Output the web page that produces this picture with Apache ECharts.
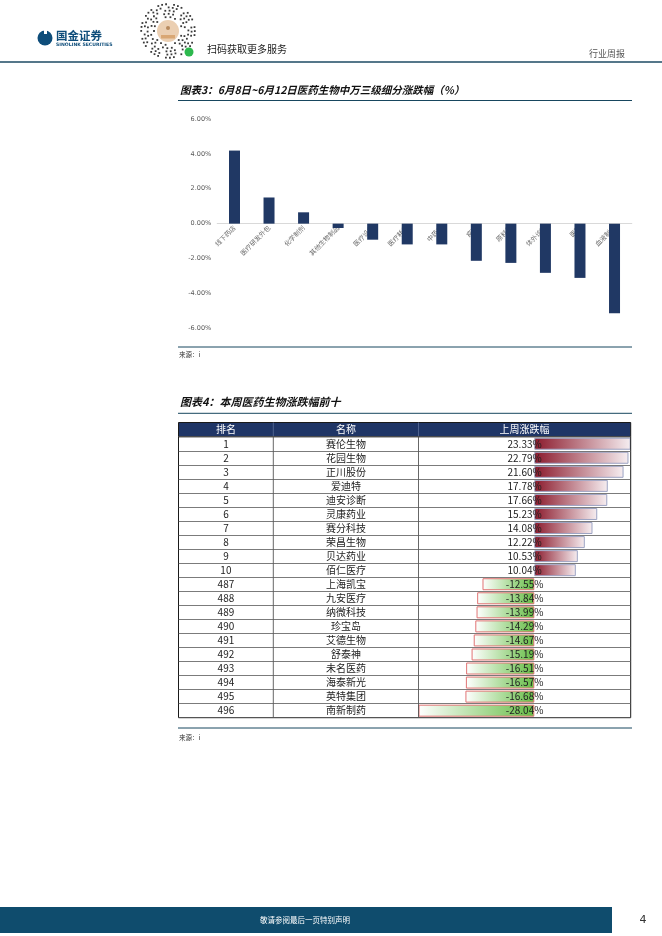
<!DOCTYPE html>
<html><head><meta charset="utf-8">
<script src="https://cdn.jsdelivr.net/npm/echarts@6/dist/echarts.min.js"></script>
<style>html,body{margin:0;padding:0;background:#fff}#c{width:662px;height:936px}</style>
</head><body><div id="c"></div>
<script>
// ---- Chart 3: sub-industry weekly change (%) ----
const industryNames = ['线下药店','医疗研发外包','化学制剂','其他生物制品','医疗设备','医疗耗材','中药Ⅲ','疫苗','原料药','体外诊断','医院','血液制品'];
const industryChanges = [4.19, 1.50, 0.65, -0.25, -0.92, -1.19, -1.19, -2.13, -2.25, -2.82, -3.11, -5.14];
const yMin = -6, yMax = 6, yStep = 2;

// ---- Table 4: top / bottom movers ----
const ranks = ['1','2','3','4','5','6','7','8','9','10','487','488','489','490','491','492','493','494','495','496'];
const stockNames = ['赛伦生物','花园生物','正川股份','爱迪特','迪安诊断','灵康药业','赛分科技','荣昌生物','贝达药业','佰仁医疗','上海凯宝','九安医疗','纳微科技','珍宝岛','艾德生物','舒泰神','未名医药','海泰新光','英特集团','南新制药'];
const stockChanges = [23.33,22.79,21.60,17.78,17.66,15.23,14.08,12.22,10.53,10.04,-12.55,-13.84,-13.99,-14.29,-14.67,-15.19,-16.51,-16.57,-16.68,-28.04];
const tableHeaders = ['排名','名称','上周涨跌幅'];

const CJK = '"Noto Sans CJK SC","Noto Sans",sans-serif';
const chart = echarts.init(document.getElementById('c'), null, {renderer:'canvas'});

// chart 3 grid geometry
const g3Top = 119, g3H = 209.3;
const zeroOffset = -g3H * (0 - yMin) / (yMax - yMin);

// table geometry
const tL = 178.5, tR = 630.7, tTop = 436.7, tBot = 717.7, hTop = 422.5;
const c1 = 273.3, c2 = 418.5;

const posGrad = {type:'linear',x:0,y:0,x2:1,y2:0,colorStops:[{offset:0,color:'#8B1A2C'},{offset:1,color:'#F6EEF1'}]};
const negGrad = {type:'linear',x:0,y:0,x2:1,y2:0,colorStops:[{offset:0,color:'#FFFFFF'},{offset:1,color:'#66BD45'}]};

// decorative QR-like ring
const qr = [];
const qx = 168, qy = 31;
for (let r = 0; r < 5; r++) {
  const rad = 14 + r * 3.2;
  const n = 18 + r * 6;
  for (let k = 0; k < n; k++) {
    if ((k * 7 + r * 3) % 4 === 0) continue;
    const a = (k / n) * Math.PI * 2 + r * 0.3;
    qr.push({type:'rect', shape:{x:qx + Math.cos(a) * rad - 0.9, y:qy + Math.sin(a) * rad - 0.9, width:1.8, height:1.8}, style:{fill:'#3a3a3a'}, silent:true});
  }
}

const graphics = [
  // header
  {type:'line', shape:{x1:0,y1:62,x2:662,y2:62}, style:{stroke:'#1D4A63', lineWidth:1.5}},
  {type:'circle', shape:{cx:45, cy:38, r:7.5}, style:{fill:'#0E4D7A'}},
  {type:'rect', shape:{x:44, y:30, width:3, height:4}, style:{fill:'#fff'}},
  {type:'text', x:56, y:36, style:{text:'国金证券', font:'bold 11.5px '+CJK, fill:'#0E4D7A', textVerticalAlign:'middle'}},
  {type:'text', x:56, y:45, style:{text:'SINOLINK SECURITIES', font:'bold 4.6px "DejaVu Sans",sans-serif', fill:'#0E4D7A', textVerticalAlign:'middle'}},
  ...qr,
  {type:'circle', shape:{cx:qx, cy:qy, r:11}, style:{fill:'#EBCFB2'}},
  {type:'circle', shape:{cx:qx, cy:qy-3, r:2}, style:{fill:'#B88A5E'}},
  {type:'rect', shape:{x:qx-7, y:qy+4, width:14, height:3.5}, style:{fill:'#D9A774'}},
  {type:'circle', shape:{cx:189, cy:52, r:4.5}, style:{fill:'#2DB84D'}},
  {type:'text', x:207, y:49, style:{text:'扫码获取更多服务', font:'10px '+CJK, fill:'#222', textVerticalAlign:'middle'}},
  {type:'text', x:625, y:54, style:{text:'行业周报', font:'9px '+CJK, fill:'#555', textAlign:'right', textVerticalAlign:'middle'}},

  // chart 3 title
  {type:'text', x:180, y:90, style:{text:'图表3：6月8日~6月12日医药生物中万三级细分涨跌幅（%）', font:'italic bold 10.5px '+CJK, fill:'#111', textVerticalAlign:'middle'}},
  {type:'line', shape:{x1:178,y1:100.5,x2:632,y2:100.5}, style:{stroke:'#17465E', lineWidth:1}},
  {type:'line', shape:{x1:178,y1:347,x2:632,y2:347}, style:{stroke:'#17465E', lineWidth:1}},
  {type:'text', x:179, y:355, style:{text:'来源：i', font:'6.5px '+CJK, fill:'#333', textVerticalAlign:'middle'}},

  // table 4 title
  {type:'text', x:180, y:402, style:{text:'图表4：本周医药生物涨跌幅前十', font:'italic bold 11px '+CJK, fill:'#111', textVerticalAlign:'middle'}},
  {type:'line', shape:{x1:178,y1:413.3,x2:632,y2:413.3}, style:{stroke:'#17465E', lineWidth:1}},
  {type:'rect', shape:{x:tL, y:hTop, width:tR-tL, height:tTop-hTop}, style:{fill:'#1F3566', stroke:'#1a1a1a', lineWidth:1}},
  {type:'line', shape:{x1:c1,y1:hTop,x2:c1,y2:tTop}, style:{stroke:'#5a6f99', lineWidth:0.8}},
  {type:'line', shape:{x1:c2,y1:hTop,x2:c2,y2:tTop}, style:{stroke:'#5a6f99', lineWidth:0.8}},
  {type:'text', x:(tL+c1)/2, y:(hTop+tTop)/2, style:{text:tableHeaders[0], font:'10px '+CJK, fill:'#fff', textAlign:'center', textVerticalAlign:'middle'}},
  {type:'text', x:(c1+c2)/2, y:(hTop+tTop)/2, style:{text:tableHeaders[1], font:'10px '+CJK, fill:'#fff', textAlign:'center', textVerticalAlign:'middle'}},
  {type:'text', x:(c2+tR)/2, y:(hTop+tTop)/2, style:{text:tableHeaders[2], font:'10px '+CJK, fill:'#fff', textAlign:'center', textVerticalAlign:'middle'}},
  {type:'line', z:50, shape:{x1:c1,y1:tTop,x2:c1,y2:tBot}, style:{stroke:'#404040', lineWidth:0.8}},
  {type:'line', z:50, shape:{x1:c2,y1:tTop,x2:c2,y2:tBot}, style:{stroke:'#404040', lineWidth:0.8}},
  {type:'line', shape:{x1:178,y1:728,x2:632,y2:728}, style:{stroke:'#17465E', lineWidth:1}},
  {type:'text', x:179, y:738, style:{text:'来源：i', font:'6.5px '+CJK, fill:'#333', textVerticalAlign:'middle'}},

  // footer
  {type:'rect', shape:{x:0, y:907, width:612, height:26}, style:{fill:'#0F4C6D'}},
  {type:'text', x:305, y:920, style:{text:'敬请参阅最后一页特别声明', font:'7.5px '+CJK, fill:'#fff', textAlign:'center', textVerticalAlign:'middle'}},
  {type:'text', x:643, y:920, style:{text:'4', font:'11px "DejaVu Sans",sans-serif', fill:'#333', textAlign:'center', textVerticalAlign:'middle'}}
];

const option = {
  backgroundColor:'#fff',
  animation:false,
  textStyle:{fontFamily:CJK},
  grid:[
    {left:217.2, width:414.6, top:g3Top, height:g3H, containLabel:false},
    {left:tL, width:tR-tL, top:tTop, height:tBot-tTop, show:true, borderColor:'#1a1a1a', borderWidth:1, backgroundColor:'transparent', z:40},
    {left:c2, width:tR-c2, top:tTop, height:tBot-tTop}
  ],
  xAxis:[
    {gridIndex:0, type:'category', data:industryNames, position:'bottom', offset:zeroOffset,
     axisLine:{onZero:false, lineStyle:{color:'#D9D9D9', width:1}}, axisTick:{show:false},
     axisLabel:{rotate:45, interval:0, fontSize:6.5, color:'#6b6b6b', margin:3, fontFamily:CJK}},
    {gridIndex:1, type:'value', show:false, min:0, max:1},
    {gridIndex:2, type:'value', show:false, min:Math.min(...stockChanges), max:Math.max(...stockChanges)}
  ],
  yAxis:[
    {gridIndex:0, type:'value', min:yMin, max:yMax, interval:yStep,
     axisLine:{show:false}, axisTick:{show:false}, splitLine:{show:false},
     axisLabel:{formatter:v=>v.toFixed(2)+'%', fontSize:6.5, color:'#595959', margin:6, fontFamily:'"DejaVu Sans",sans-serif'}},
    {gridIndex:1, type:'category', inverse:true, position:'left', data:ranks, z:60,
     axisLine:{show:false}, axisTick:{show:false},
     splitLine:{show:true, interval:0, lineStyle:{color:'#595959', width:0.8}},
     axisLabel:{inside:true, align:'center', margin:(c1-tL)/2, fontSize:10, color:'#222', interval:0, fontFamily:CJK}},
    {gridIndex:1, type:'category', inverse:true, position:'left', data:stockNames, z:60,
     axisLine:{show:false}, axisTick:{show:false}, splitLine:{show:false},
     axisLabel:{inside:true, align:'center', margin:(c1+c2)/2-tL, fontSize:10, color:'#222', interval:0, fontFamily:CJK}},
    {gridIndex:1, type:'category', inverse:true, position:'left', data:stockChanges.map(v=>v.toFixed(2)+'%'), z:60,
     axisLine:{show:false}, axisTick:{show:false}, splitLine:{show:false},
     axisLabel:{inside:true, align:'center', margin:(c2+tR)/2-tL, fontSize:10, color:'#222', interval:0, fontFamily:CJK}},
    {gridIndex:2, type:'category', inverse:true, data:ranks, show:false}
  ],
  series:[
    {type:'bar', xAxisIndex:0, yAxisIndex:0, data:industryChanges, barWidth:11,
     itemStyle:{color:'#203864'}, z:2},
    {type:'bar', xAxisIndex:2, yAxisIndex:4, barWidth:12, z:2,
     data:stockChanges.map(v=>({value:v, itemStyle:{
        color: v >= 0 ? posGrad : negGrad,
        borderColor: v >= 0 ? '#9CA3C3' : '#E07474', borderWidth:1}}))}
  ],
  graphic:graphics
};
chart.setOption(option);
</script></body></html>
